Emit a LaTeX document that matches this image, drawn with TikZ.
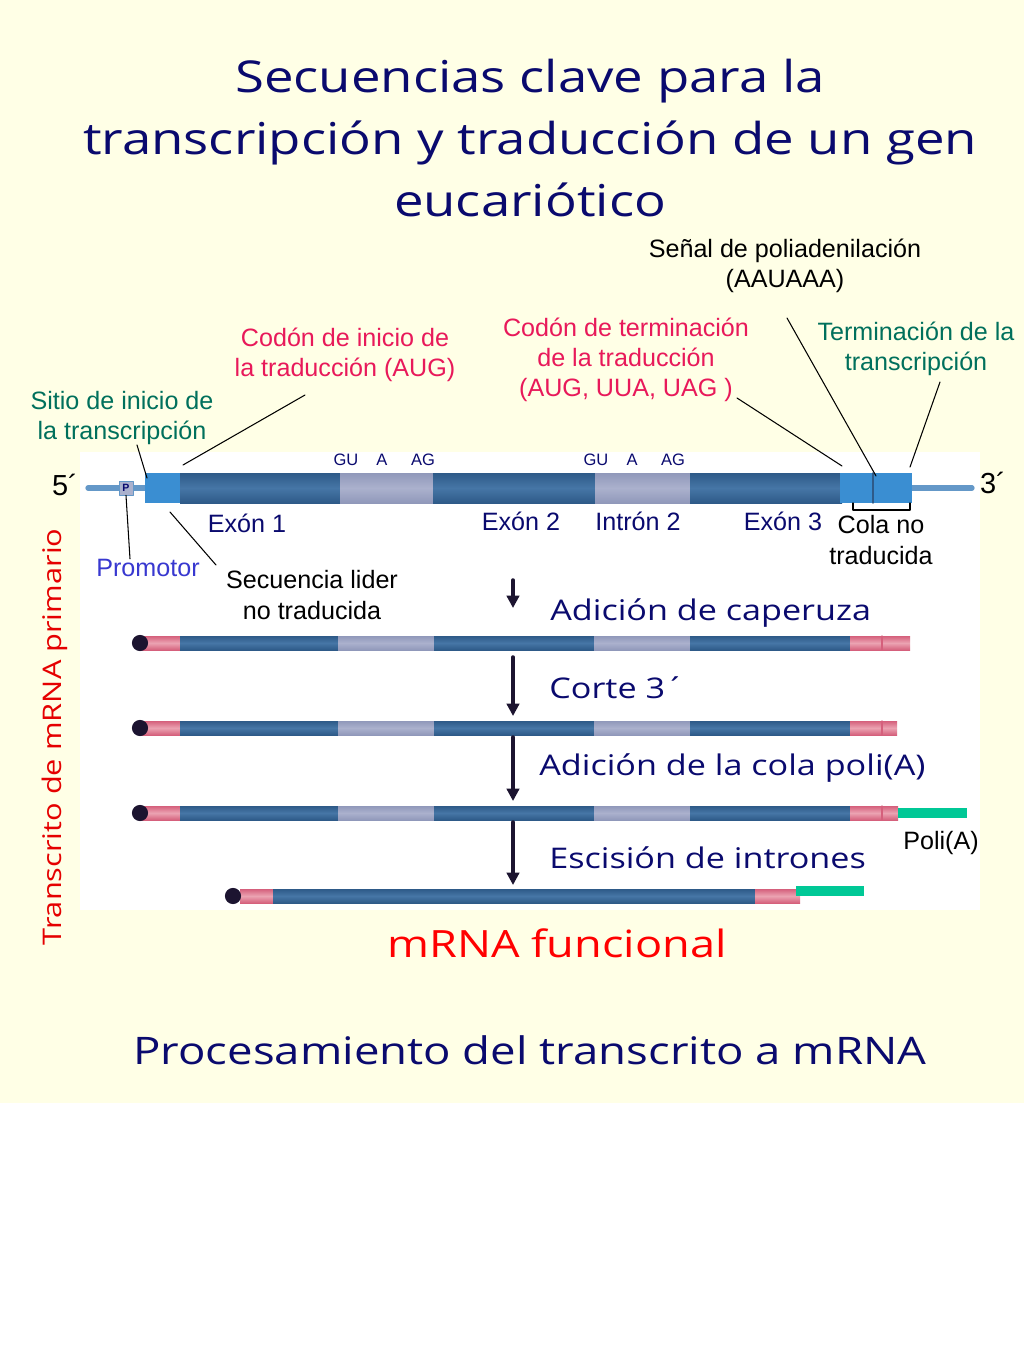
\documentclass[tikz,border=0pt]{standalone}
\usepackage{fontspec}
\setmainfont{Liberation Sans}
\newfontfamily\comic[FakeStretch=1.2]{Open Sans}
\usetikzlibrary{arrows.meta}
\definecolor{bgyellow}{HTML}{FFFFE6}
\definecolor{navy}{HTML}{0A0A6E}
\definecolor{exonblue}{HTML}{4676A6}
\definecolor{exondark}{HTML}{2E5A88}
\definecolor{intronlav}{HTML}{ABB1CD}
\definecolor{introndark}{HTML}{9098BA}
\definecolor{utrblue}{HTML}{3A8ED2}
\definecolor{capink}{HTML}{EBA3B2}
\definecolor{capdark}{HTML}{D5607C}
\definecolor{polygreen}{HTML}{00C896}
\definecolor{tealtext}{HTML}{00705C}
\definecolor{crimtext}{HTML}{E8195A}
\definecolor{promblue}{HTML}{3838D0}
\definecolor{dnaline}{HTML}{6498C8}
\definecolor{arrowdark}{HTML}{1C1430}
\tikzset{
  lab/.style={align=center, inner sep=0pt, font=\fontsize{14.3}{17.2}\selectfont},
  exon/.style={top color=exondark, bottom color=exondark, middle color=exonblue},
  intron/.style={top color=introndark, bottom color=introndark, middle color=intronlav},
  utr/.style={top color=capdark, bottom color=capdark, middle color=capink},
  leader/.style={black, line width=0.6pt},
  stepname/.style={anchor=west, inner sep=0pt, text=navy, font=\comic\fontsize{16.2}{20}\selectfont},
  flow/.style={arrowdark, line width=2pt, -{Triangle[length=7pt,width=7pt]}}
}
\begin{document}
\begin{tikzpicture}[x=0.02cm, y=-0.02cm, line join=round, line cap=round]
\useasboundingbox (0,0) rectangle (1024,1365);
\fill[bgyellow] (0,0) rectangle (1024,1103);
\fill[white] (80,452) rectangle (980,910);

% titulo
\node[align=center, text=navy, font=\comic\fontsize{25}{35.3}\selectfont] (title) at (530,138)
  {Secuencias clave para la\\transcripción y traducción de un gen\\eucariótico};

% gen
\def\gt{473} \def\gb{503}
\draw[dnaline, line width=3pt] (88,488) -- (146,488);
\draw[dnaline, line width=3pt] (910,488) -- (972,488);
\fill[utrblue] (145,\gt) rectangle (182,\gb);
\shade[exon] (180,\gt) rectangle (340,\gb);
\shade[intron] (340,\gt) rectangle (433,\gb);
\shade[exon] (433,\gt) rectangle (595,\gb);
\shade[intron] (595,\gt) rectangle (690,\gb);
\shade[exon] (690,\gt) rectangle (842,\gb);
\fill[utrblue] (840,\gt) rectangle (912,\gb);
\draw[exondark, line width=0.8pt] (873,\gt) -- (873,\gb);
\draw[black, line width=0.6pt] (853,\gb) -- (853,510) -- (910,510) -- (910,\gb);
\node[draw=dnaline, fill=intronlav, inner sep=0.5pt, minimum size=8pt,
  font=\fontsize{6}{6}\bfseries\selectfont, text=navy] (prom) at (126,488) {P};

\path
  (147,478) coordinate (tss)
  (183,465) coordinate (aug)
  (170,512) coordinate (leader)
  (842,466) coordinate (stop)
  (876,476) coordinate (polya)
  (910,467) coordinate (term)
  (137,445) coordinate (tssA)
  (305,395) coordinate (augA)
  (216,565) coordinate (leaderA)
  (737,398) coordinate (stopA)
  (787,318) coordinate (polyaA)
  (940,382) coordinate (termA)
  ;

\node[lab, font=\fontsize{16.5}{17}\selectfont] (five) at (65,485) {5´};
\node[lab, font=\fontsize{16.5}{17}\selectfont] (three) at (993,483) {3´};
\foreach \x in {0,250}{
  \node[lab, text=navy, font=\fontsize{9.4}{10}\selectfont] at (346+\x,460) {GU};
  \node[lab, text=navy, font=\fontsize{9.4}{10}\selectfont] at (382+\x,460) {A};
  \node[lab, text=navy, font=\fontsize{9.4}{10}\selectfont] at (423+\x,460) {AG};
}

% rotulos
\node[lab, text=tealtext] (sitio) at (122,418) {Sitio de inicio de\\la transcripción};
\node[lab, text=crimtext] (inicio) at (345,355) {Codón de inicio de\\la traducción (AUG)};
\node[lab, text=crimtext] (termcod) at (626,360) {Codón de terminación\\de la traducción\\(AUG, UUA, UAG )};
\node[lab] (senal) at (785,266) {Señal de poliadenilación\\(AAUAAA)};
\node[lab, text=tealtext] (termtx) at (916,349) {Terminación de la\\transcripción};
\node[lab, text=promblue] (promotor) at (148,568) {Promotor};
\node[lab] (lider) at (312,595) {Secuencia lider\\no traducida};
\node[lab, text=navy] (ex1) at (247,523) {Exón 1};
\node[lab, text=navy] (ex2) at (521,521) {Exón 2};
\node[lab, text=navy] (in2) at (638,521) {Intrón 2};
\node[lab, text=navy] (ex3) at (783,521) {Exón 3};
\node[lab] (cola) at (881,540) {Cola no\\traducida};

\draw[leader] (tssA) -- (tss) (augA) -- (aug) (leaderA) -- (leader)
  (stopA) -- (stop) (polyaA) -- (polya) (termA) -- (term);
\draw[leader] (promotor.north -| 130,0) -- (prom.south);

% procesamiento
\foreach \y/\e in {643/910,728/897,813/898}{
  \shade[utr] (140,\y-7) rectangle (181,\y+7);
  \shade[exon] (180,\y-7) rectangle (339,\y+7);
  \shade[intron] (338,\y-7) rectangle (435,\y+7);
  \shade[exon] (434,\y-7) rectangle (595,\y+7);
  \shade[intron] (594,\y-7) rectangle (691,\y+7);
  \shade[exon] (690,\y-7) rectangle (851,\y+7);
  \shade[utr] (850,\y-7) rectangle (\e,\y+7);
  \draw[capdark, line width=0.6pt] (882,\y-7) -- (882,\y+7);
  \fill[arrowdark] (140,\y) circle (4.6pt);
}
\fill[polygreen] (898,808) rectangle (967,818);

\shade[utr] (240,889) rectangle (274,903);
\shade[exon] (273,889) rectangle (756,903);
\shade[utr] (755,889) rectangle (800,903);
\fill[polygreen] (796,886) rectangle (864,896);
\fill[arrowdark] (233,896) circle (4.6pt);

\path
  (513,580) coordinate (a1) (513,608) coordinate (b1)
  (513,657) coordinate (a2) (513,716) coordinate (b2)
  (513,737) coordinate (a3) (513,801) coordinate (b3)
  (513,822) coordinate (a4) (513,885) coordinate (b4);
\foreach \i in {1,...,4}{\draw[flow] (a\i) -- (b\i);}

\node[stepname] (cap) at (550,613) {Adición de caperuza};
\node[stepname] (corte) at (549,688) {Corte 3´};
\node[stepname] (cola) at (539,768) {Adición de la cola poli(A)};
\node[stepname] (escis) at (549,858) {Escisión de intrones};
\node[lab] (polia) at (941,843) {Poli(A)};

\node[rotate=90, text=red!90!black, font=\comic\fontsize{14.6}{18}\selectfont] (primario) at (55,737)
  {Transcrito de mRNA primario};
\node[text=red, font=\comic\fontsize{21.4}{24}\selectfont] (funcional) at (557,943) {mRNA funcional};
\node[text=navy, font=\comic\fontsize{21.6}{26}\selectfont] (proc) at (530,1050)
  {Procesamiento del transcrito a mRNA};
\end{tikzpicture}
\end{document}
